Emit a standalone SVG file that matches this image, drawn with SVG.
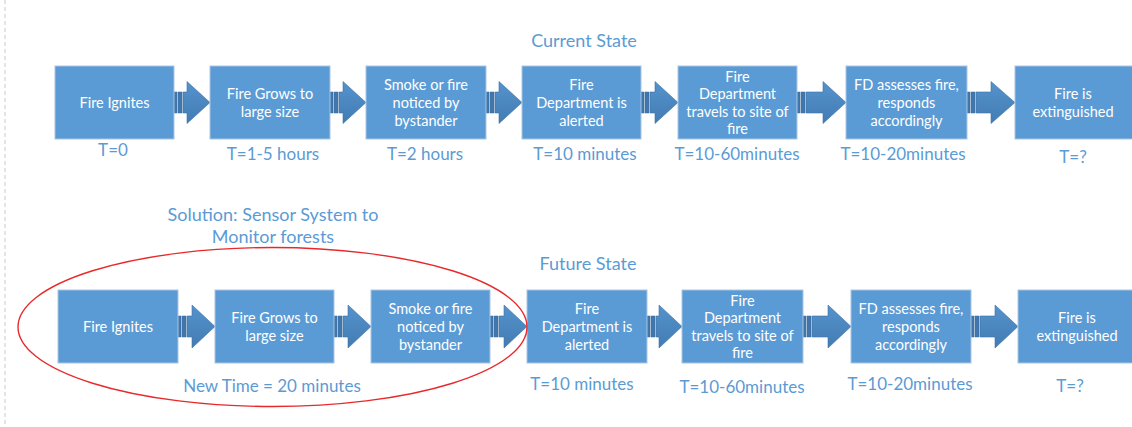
<svg xmlns="http://www.w3.org/2000/svg" width="1132" height="427" viewBox="0 0 1132 427">
<defs>
<linearGradient id="ag" x1="0" y1="0" x2="0" y2="1">
<stop offset="0" stop-color="#5592cc"/>
<stop offset="1" stop-color="#437cb3"/>
</linearGradient>
<style>
.box{fill:#5b9bd5;stroke:#a9c5e3;stroke-width:1}
.bt{font-family:Lato,"Open Sans",sans-serif;font-size:14.5px;fill:#ffffff;text-anchor:middle;dominant-baseline:central}
.tl{font-family:Lato,"Open Sans",sans-serif;font-size:17px;fill:#5b9bd5;text-anchor:middle;dominant-baseline:central}
.ti{font-family:Lato,"Open Sans",sans-serif;font-size:18px;fill:#5b9bd5;text-anchor:middle;dominant-baseline:central}
.ar{fill:url(#ag);stroke:#3f73a6;stroke-width:0.6}
.bar{fill:#4277ad;stroke:#3a6b9c;stroke-width:0.5}
</style>
</defs>
<rect width="1132" height="427" fill="#ffffff"/>
<line x1="5" y1="0" x2="5" y2="427" stroke="#dcdcdc" stroke-width="1.5" stroke-dasharray="4 3"/>

<text class="ti" x="584" y="40">Current State</text>
<text class="ti" x="588" y="263">Future State</text>
<text class="ti" x="273" y="214">Solution: Sensor System to</text>
<text class="ti" x="273" y="236">Monitor forests</text>

<g id="connectors">
<!-- top row -->
<rect class="bar" x="174" y="92" width="3" height="21"/><rect class="bar" x="178" y="92" width="4" height="21"/>
<path class="ar" d="M183 92H187V81.5L210 102.5L187 123.5V113H183Z"/>
<rect class="bar" x="330" y="92" width="3" height="21"/><rect class="bar" x="334" y="92" width="4" height="21"/>
<path class="ar" d="M339 92H343V81.5L366 102.5L343 123.5V113H339Z"/>
<rect class="bar" x="486" y="92" width="3" height="21"/><rect class="bar" x="490" y="92" width="4" height="21"/>
<path class="ar" d="M495 92H499V81.5L522 102.5L499 123.5V113H495Z"/>
<rect class="bar" x="641" y="92" width="3" height="21"/><rect class="bar" x="645" y="92" width="4" height="21"/>
<path class="ar" d="M650 92H655V81.5L678 102.5L655 123.5V113H650Z"/>
<rect class="bar" x="797" y="92" width="3" height="21"/><rect class="bar" x="801" y="92" width="4" height="21"/>
<path class="ar" d="M806 92H823V81.5L846 102.5L823 123.5V113H806Z"/>
<rect class="bar" x="967" y="92" width="3" height="21"/><rect class="bar" x="971" y="92" width="4" height="21"/>
<path class="ar" d="M976 92H991V81.5L1015 102.5L991 123.5V113H976Z"/>
<!-- bottom row -->
<rect class="bar" x="178" y="316" width="3" height="21"/><rect class="bar" x="182" y="316" width="4" height="21"/>
<path class="ar" d="M187 316H192V305L215 326.5L192 348V337H187Z"/>
<rect class="bar" x="334" y="316" width="3" height="21"/><rect class="bar" x="338" y="316" width="4" height="21"/>
<path class="ar" d="M343 316H348V305L371 326.5L348 348V337H343Z"/>
<rect class="bar" x="490" y="316" width="3" height="21"/><rect class="bar" x="494" y="316" width="4" height="21"/>
<path class="ar" d="M499 316H504V305L527 326.5L504 348V337H499Z"/>
<rect class="bar" x="647" y="316" width="3" height="21"/><rect class="bar" x="651" y="316" width="4" height="21"/>
<path class="ar" d="M656 316H659V305L682 326.5L659 348V337H656Z"/>
<rect class="bar" x="803" y="316" width="3" height="21"/><rect class="bar" x="807" y="316" width="4" height="21"/>
<path class="ar" d="M812 316H828V305L851 326.5L828 348V337H812Z"/>
<rect class="bar" x="971" y="316" width="3" height="21"/><rect class="bar" x="975" y="316" width="4" height="21"/>
<path class="ar" d="M980 316H995V305L1018 326.5L995 348V337H980Z"/>
</g>

<!-- top row nodes -->
<g id="c1"><rect class="box" x="55" y="66" width="119" height="73"/><text class="bt" x="114.5" y="102.5">Fire Ignites</text><text class="tl" x="113" y="149">T=0</text></g>
<g id="c2"><rect class="box" x="210" y="66" width="120" height="73"/><text class="bt" x="270" y="93.5">Fire Grows to</text><text class="bt" x="270" y="111.5">large size</text><text class="tl" x="273" y="153">T=1-5 hours</text></g>
<g id="c3"><rect class="box" x="366" y="66" width="120" height="73"/><text class="bt" x="426" y="84.5">Smoke or fire</text><text class="bt" x="426" y="102.5">noticed by</text><text class="bt" x="426" y="120.5">bystander</text><text class="tl" x="425" y="153">T=2 hours</text></g>
<g id="c4"><rect class="box" x="522" y="66" width="119" height="73"/><text class="bt" x="581.5" y="84.5">Fire</text><text class="bt" x="581.5" y="102.5">Department is</text><text class="bt" x="581.5" y="120.5">alerted</text><text class="tl" x="585" y="153">T=10 minutes</text></g>
<g id="c5"><rect class="box" x="678" y="66" width="119" height="73"/><text class="bt" x="737.5" y="76">Fire</text><text class="bt" x="737.5" y="93.5">Department</text><text class="bt" x="737.5" y="111">travels to site of</text><text class="bt" x="737.5" y="128.5">fire</text><text class="tl" x="737" y="153">T=10-60minutes</text></g>
<g id="c6"><rect class="box" x="846" y="66" width="121" height="73"/><text class="bt" x="906.5" y="84.5">FD assesses fire,</text><text class="bt" x="906.5" y="102.5">responds</text><text class="bt" x="906.5" y="120.5">accordingly</text><text class="tl" x="903" y="153">T=10-20minutes</text></g>
<g id="c7"><rect class="box" x="1015" y="66" width="120" height="73"/><text class="bt" x="1073" y="93.5">Fire is</text><text class="bt" x="1073" y="111.5">extinguished</text><text class="tl" x="1073" y="156">T=?</text></g>

<!-- bottom row nodes -->
<g id="f1"><rect class="box" x="58" y="290" width="120" height="73"/><text class="bt" x="118" y="326.5">Fire Ignites</text></g>
<g id="f2"><rect class="box" x="215" y="290" width="119" height="73"/><text class="bt" x="274.5" y="317.5">Fire Grows to</text><text class="bt" x="274.5" y="335.5">large size</text></g>
<g id="f3"><rect class="box" x="371" y="290" width="119" height="73"/><text class="bt" x="430.5" y="308.5">Smoke or fire</text><text class="bt" x="430.5" y="326.5">noticed by</text><text class="bt" x="430.5" y="344.5">bystander</text></g>
<g id="f4"><rect class="box" x="527" y="290" width="120" height="73"/><text class="bt" x="587" y="308.5">Fire</text><text class="bt" x="587" y="326.5">Department is</text><text class="bt" x="587" y="344.5">alerted</text><text class="tl" x="582" y="383">T=10 minutes</text></g>
<g id="f5"><rect class="box" x="682" y="290" width="121" height="73"/><text class="bt" x="742.5" y="300">Fire</text><text class="bt" x="742.5" y="317.5">Department</text><text class="bt" x="742.5" y="335">travels to site of</text><text class="bt" x="742.5" y="352.5">fire</text><text class="tl" x="742" y="386">T=10-60minutes</text></g>
<g id="f6"><rect class="box" x="851" y="290" width="120" height="73"/><text class="bt" x="911" y="308.5">FD assesses fire,</text><text class="bt" x="911" y="326.5">responds</text><text class="bt" x="911" y="344.5">accordingly</text><text class="tl" x="910" y="383">T=10-20minutes</text></g>
<g id="f7"><rect class="box" x="1018" y="290" width="118" height="73"/><text class="bt" x="1077" y="317.5">Fire is</text><text class="bt" x="1077" y="335.5">extinguished</text><text class="tl" x="1070" y="385">T=?</text></g>

<g id="solution">
<ellipse cx="272.5" cy="327" rx="254.5" ry="79.5" fill="none" stroke="#e8292b" stroke-width="1.4"/>
<text class="tl" x="272" y="385">New Time = 20 minutes</text>
</g>
</svg>
